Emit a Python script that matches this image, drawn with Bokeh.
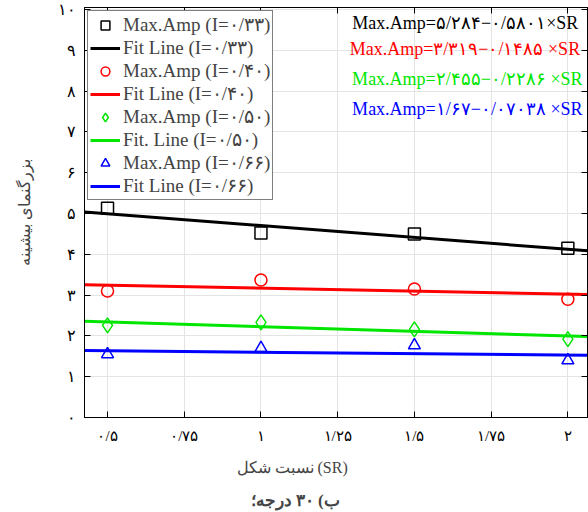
from bokeh.plotting import figure
from bokeh.models import (Range1d, LinearAxis, FixedTicker, Legend, LegendItem, Label,
                          CustomJSTickFormatter, Title)
from bokeh.embed import file_html
from bokeh.resources import INLINE

# Measured peak amplification for each intensity, by shape ratio (SR)
sr = [0.5, 1.0, 1.5, 2.0]
amp_033 = [5.13, 4.52, 4.50, 4.15]
amp_040 = [3.10, 3.37, 3.15, 2.90]
amp_050 = [2.26, 2.33, 2.16, 1.92]
amp_066 = [1.55, 1.70, 1.77, 1.40]

# Linear fits: Max.Amp = intercept + slope * SR
intercepts = [5.284, 3.319, 2.455, 1.67]
slopes = [-0.5801, -0.1485, -0.2286, -0.07038]

marker_labels = ["Max.Amp (I=۰/۳۳)", "Max.Amp (I=۰/۴۰)", "Max.Amp (I=۰/۵۰)", "Max.Amp (I=۰/۶۶)"]
line_labels = ["Fit Line (I=۰/۳۳)", "Fit Line (I=۰/۴۰)", "Fit. Line (I=۰/۵۰)", "Fit Line (I=۰/۶۶)"]
equations = [
    "Max.Amp=۵/۲۸۴−۰/۵۸۰۱×SR",
    "Max.Amp=۳/۳۱۹−۰/۱۴۸۵ ×SR",
    "Max.Amp=۲/۴۵۵−۰/۲۲۸۶ ×SR",
    "Max.Amp=۱/۶۷−۰/۰۷۰۳۸ ×SR",
]

x_ticks = [0.5, 0.75, 1, 1.25, 1.5, 1.75, 2]
x_tick_labels = ["۰/۵", "۰/۷۵", "۱", "۱/۲۵", "۱/۵", "۱/۷۵", "۲"]
y_ticks = [0, 1, 2, 3, 4, 5, 6, 7, 8, 9, 10]
y_tick_labels = ["۰", "۱", "۲", "۳", "۴", "۵", "۶", "۷", "۸", "۹", "۱۰"]

colors = ["#000000", "#ff0000", "#00e600", "#0000ff"]
markers = ["square", "circle", "diamond", "triangle"]
marker_sizes = [12, 12, 15, 12]
series = [amp_033, amp_040, amp_050, amp_066]

SERIF = "Liberation Serif"

x0, x1 = 0.425, 2.064
p = figure(width=588, height=512, output_backend="svg", toolbar_location=None,
           x_range=Range1d(x0, x1), y_range=Range1d(0, 10.05),
           min_border_left=84, min_border_right=1, min_border_top=7, min_border_bottom=4)
p.background_fill_color = "white"
p.border_fill_color = "white"
p.outline_line_color = "black"
p.outline_line_width = 1

for ax, ticks, labels in ((p.xaxis[0], x_ticks, x_tick_labels), (p.yaxis[0], y_ticks, y_tick_labels)):
    ax.ticker = FixedTicker(ticks=ticks, num_minor_ticks=5)
    ax.major_label_overrides = dict(zip(ticks, labels))
    ax.major_tick_in = 6
    ax.major_tick_out = 0
    ax.minor_tick_in = 3
    ax.minor_tick_out = 0
    ax.axis_line_color = "black"
    ax.major_tick_line_color = "black"
    ax.minor_tick_line_color = "black"
    ax.major_label_text_font = SERIF
    ax.major_label_text_font_size = "15px"
    ax.major_label_text_color = "black"

p.yaxis[0].major_label_text_font_size = "16px"
p.xaxis[0].major_label_standoff = 10
p.yaxis[0].major_label_standoff = 9
p.yaxis[0].axis_label = "بزرگنمای بیشینه"
p.yaxis[0].axis_label_text_font = SERIF
p.yaxis[0].axis_label_text_font_size = "16px"
p.yaxis[0].axis_label_text_font_style = "normal"
p.yaxis[0].axis_label_standoff = 22

# mirrored tick marks on the top and right edges, without labels
for loc, ticks in (("above", x_ticks), ("right", y_ticks)):
    ax = LinearAxis(ticker=FixedTicker(ticks=ticks, num_minor_ticks=5),
                    formatter=CustomJSTickFormatter(code="return ''"),
                    major_label_standoff=0,
                    major_tick_in=6, major_tick_out=0, minor_tick_in=3, minor_tick_out=0,
                    axis_line_color="black", major_tick_line_color="black",
                    minor_tick_line_color="black")
    p.add_layout(ax, loc)

p.xgrid.ticker = FixedTicker(ticks=x_ticks)
p.ygrid.ticker = FixedTicker(ticks=y_ticks)
p.grid.grid_line_color = "#e4e4e4"
p.grid.grid_line_width = 1

items = []
for vals, a, b, c, m, ms, ml, ll in zip(series, intercepts, slopes, colors, markers, marker_sizes,
                                         marker_labels, line_labels):
    ln = p.line([x0, x1], [a + b * x0, a + b * x1], line_color=c, line_width=3)
    sc = p.scatter(sr, vals, marker=m, size=ms, line_color=c, line_width=1.5, fill_color=None)
    items.append(LegendItem(label=ml, renderers=[sc]))
    items.append(LegendItem(label=ll, renderers=[ln]))

legend = Legend(items=items, location="top_left", margin=3, padding=2, spacing=0,
                glyph_width=30, glyph_height=22, label_height=22, label_standoff=3,
                label_text_font=SERIF, label_text_font_size="19px",
                border_line_color="black", border_line_width=1,
                background_fill_color="white", background_fill_alpha=1)
p.add_layout(legend)

eq_pos = [(2.034, 9.68), (2.040, 9.04), (2.048, 8.30), (2.048, 7.56)]
for txt, c, (ex, ey) in zip(equations, colors, eq_pos):
    p.add_layout(Label(x=ex, y=ey, text=txt, text_color=c, text_font=SERIF,
                       text_font_size="18px", text_align="right", text_baseline="middle"))

# axis title and panel caption under the x axis
p.add_layout(Title(text="نسبت شکل (SR)", align="left", offset=152, standoff=21,
                   text_font=SERIF, text_font_size="16px", text_font_style="normal"), "below")
p.add_layout(Title(text="ب) ۳۰ درجه؛", align="left", offset=166, standoff=5,
                   text_font=SERIF, text_font_size="17px", text_font_style="bold"), "below")

open("out.html", "w").write(file_html(p, INLINE))
